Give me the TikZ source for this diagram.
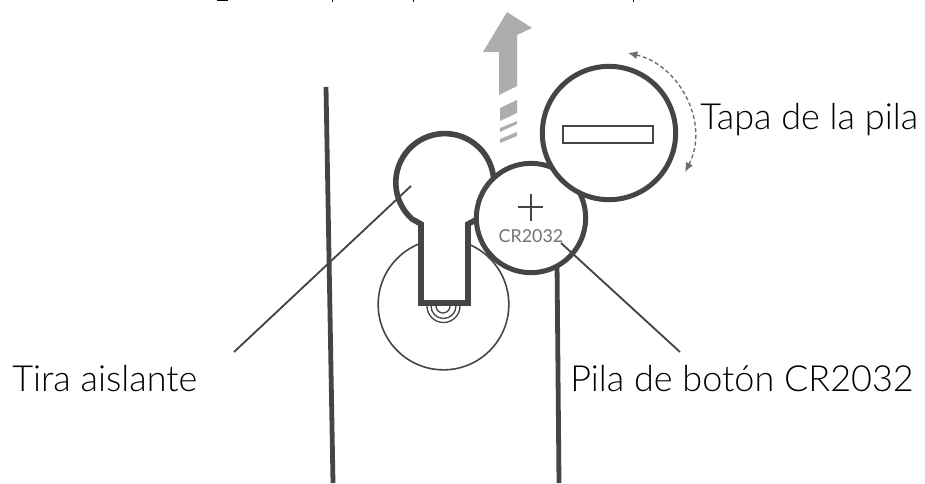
\documentclass[tikz,border=0pt]{standalone}
\usepackage{fontspec}
\setmainfont{Lato Light}
\newfontfamily\lbl{Lato}
\usetikzlibrary{arrows.meta}
\definecolor{ink}{gray}{0.27}
\definecolor{arrowgray}{gray}{0.68}
\tikzset{
  x=0.75pt,y=-0.75pt,
  heavy/.style={draw=ink,line width=3.75pt},
  rail/.style={draw=ink,line width=3.6pt},
  fine/.style={draw=ink,line width=1pt},
  leader/.style={draw=ink,line width=1.4pt},
  caption/.style={font=\fontsize{27pt}{30pt}\selectfont,text=black,inner sep=0pt,anchor=base west},
  strip/.style={fill=arrowgray,draw=none},
}
\begin{document}
\begin{tikzpicture}
\useasboundingbox (0,0) rectangle (925,483);
% clipped descenders of the cropped line above
\fill[black] (217,0) rectangle (228,1.2);
\fill[black] (331.5,0) rectangle (333,1.6);
\fill[black] (412.5,0) rectangle (414,1.6);
\fill[black] (632.5,0) rectangle (634,1.6);
% body rails
\coordinate (railLtop) at (326,87);
\coordinate (railLbot) at (333,483);
\coordinate (railRtop) at (557,262);
\coordinate (railRbot) at (559,483);
\draw[rail] (railLtop) -- (railLbot);
\draw[rail] (railRtop) -- (railRbot);
% large thin circle
\node[circle,draw=ink,line width=1.2pt,minimum size=98pt,inner sep=0pt] (disc) at (443.5,304.5) {};
% concentric semi circles
\draw[fine] (427,306) arc (180:0:16.5);
\draw[fine] (431,306) arc (180:0:12.5);
\draw[fine] (436,306) arc (180:0:7);
% key hole
\draw[heavy,fill=white,line width=4.2pt]
  (421,303) -- (421,224) -- (412,219) arc (132:408:49) -- (468,224) -- (468,303) -- cycle;
% battery
\node[circle,heavy,fill=white,minimum size=82pt,inner sep=0pt] (cell) at (531,218) {};
% plus
\coordinate (plusL) at (518,207); \coordinate (plusR) at (543,207);
\coordinate (plusT) at (531,194); \coordinate (plusB) at (531,221);
\draw[fine] (plusL) -- (plusR);
\draw[fine] (plusT) -- (plusB);
\node[font=\lbl\fontsize{13.4pt}{14pt}\selectfont,text=gray!90!black,inner sep=0pt] (cr) at (531,236) {CR2032};
% cover
\node[circle,heavy,fill=white,minimum size=100pt,inner sep=0pt] (cover) at (609,133) {};
\node[draw=ink,line width=1.4pt,minimum width=67pt,minimum height=12.5pt,inner sep=0pt] (slot) at (608,134.5) {};
% pull arrow
\fill[strip] (507,12) -- (532,28) -- (517,35) -- (517,86) -- (499,95) -- (499,52) -- (483,52) -- cycle;
\fill[strip] (500,108) -- (517,100) -- (517,113) -- (500,121) -- cycle;
\fill[strip] (500,128) -- (517,121) -- (517,124) -- (500,132) -- cycle;
\fill[strip] (500,139) -- (517,132) -- (517,136) -- (500,143) -- cycle;
% rotation arrow
\coordinate (rotA) at (628,53);
\coordinate (rotB) at (685,172);
\draw[gray!85!black,line width=1pt,densely dashed,{Latex[length=7pt,width=6pt]}-{Latex[length=7pt,width=6pt]}]
  (rotA) .. controls (680,65) and (710,124) .. (rotB);
% leaders
\coordinate (tiraA) at (234,352); \coordinate (tiraB) at (411,186);
\coordinate (pilaA) at (561,243); \coordinate (pilaB) at (680,352);
\draw[leader] (tiraA) -- (tiraB);
\draw[leader] (pilaA) -- (pilaB);
% captions
\node[caption] (t1) at (700,129) {Tapa de la pila};
\node[caption] (t2) at (12,391) {Tira aislante};
\node[caption] (t3) at (570,391) {Pila de botón CR2032};
\end{tikzpicture}
\end{document}
